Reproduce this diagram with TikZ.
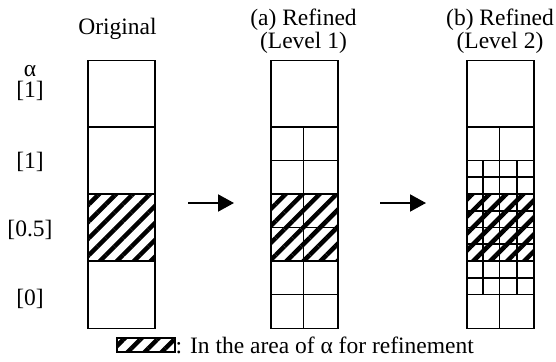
\documentclass[tikz,border=0pt]{standalone}
\usepackage{fontspec}
\setmainfont{Liberation Serif}
\usetikzlibrary{arrows.meta,patterns.meta}

\tikzset{
  grid line/.style={line width=1.8pt},
  hatched/.style={pattern={Lines[angle=45,distance=12pt,line width=4.5pt]}},
  label text/.style={font=\fontsize{23.5}{25}\selectfont, inner sep=0pt},
  column frame/.style={draw, grid line, minimum width=67pt, minimum height=268pt,
                       inner sep=0pt, anchor=north west},
  flow arrow/.style={line width=2pt, -{Triangle[length=16pt,width=17pt]}},
}

\begin{document}
\begin{tikzpicture}[x=1pt,y=-1pt]
\useasboundingbox (0,0) rectangle (556,361);

% hatched band (alpha = 0.5) in each column
\fill[hatched] (87,194) rectangle (154,261);
\fill[hatched] (270,194) rectangle (337,261);
\fill[hatched] (466,194) rectangle (533,261);

% original mesh: four equal cells
\foreach \y in {127,194,261}
  \draw[grid line] (87,\y) -- (154,\y);

% level 1: lower cells halved in both directions
\draw[grid line] (303.5,127) -- (303.5,327.5);
\foreach \y in {127,160.5,194,227.5,261,294.5}
  \draw[grid line] (270,\y) -- (337,\y);

% level 2: cells near the band split once more
\draw[grid line] (499.5,127) -- (499.5,327.5);
\foreach \x in {483.25,516.75}
  \draw[grid line] (\x,160.5) -- (\x,294.5);
\foreach \y in {127,160.5,177.25,194,210.75,227.5,244.25,261,277.75,294.5}
  \draw[grid line] (466,\y) -- (533,\y);

% column outlines
\node[column frame] (orig) at (87,59.5) {};
\node[column frame] (lvlA) at (270,59.5) {};
\node[column frame] (lvlB) at (466,59.5) {};

% headings
\node[label text, anchor=base] (hOrig) at (117.5,34.5) {Original};
\node[label text, anchor=base] (hA1) at (303.5,26) {(a) Refined};
\node[label text, anchor=base] (hA2) at (303.5,48.5) {(Level 1)};
\node[label text, anchor=base] (hB1) at (500,26) {(b) Refined};
\node[label text, anchor=base] (hB2) at (500,48.5) {(Level 2)};

% alpha values per row
\node[label text] (alpha) at (30,71) {α};
\node[label text] (v1) at (30,91) {[1]};
\node[label text] (v2) at (30,162) {[1]};
\node[label text] (v3) at (30,230) {[0.5]};
\node[label text] (v4) at (30,299) {[0]};

% refinement arrows
\coordinate (a1s) at (188,203);
\coordinate (a1e) at (234,203);
\coordinate (a2s) at (380,203);
\coordinate (a2e) at (426,203);
\draw[flow arrow] (a1s) -- (a1e);
\draw[flow arrow] (a2s) -- (a2e);

% legend
\draw[grid line, hatched] (117,338) rectangle (175,352);
\node[label text, anchor=base west] (legend) at (175.5,353) {: In the area of α for refinement};
\end{tikzpicture}
\end{document}
